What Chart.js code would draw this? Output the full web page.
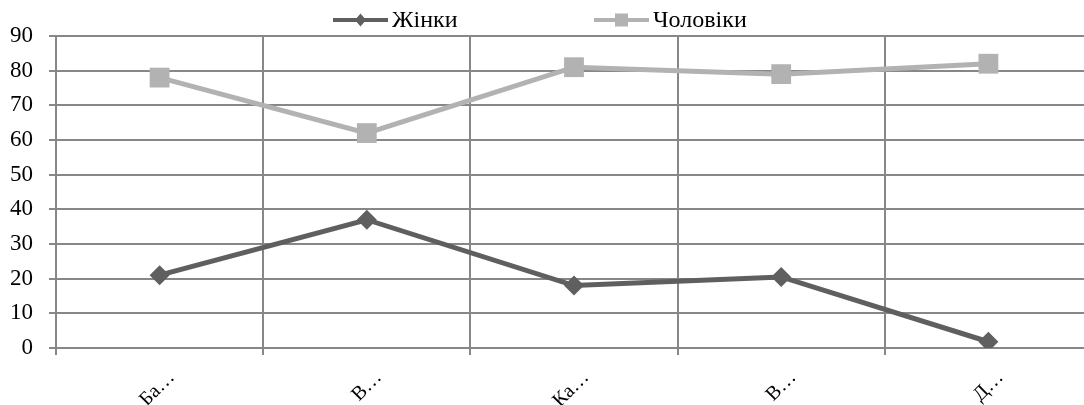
<!DOCTYPE html>
<html>
<head>
<meta charset="utf-8">
<script src="https://cdn.jsdelivr.net/npm/chart.js@4/dist/chart.umd.min.js"></script>
<style>
  html, body { margin: 0; padding: 0; background: #fff; overflow: hidden; }
  #wrap { width: 1084px; height: 405px; overflow: hidden; position: relative; }
  #box { width: 1106px; height: 405px; position: absolute; left: 0; top: 0; }
</style>
</head>
<body>
<div id="wrap"><div id="box"><canvas id="c"></canvas></div></div>
<script>
// Categories (shortened names) and the two series
const categories = ['Ба…', 'В…', 'Ка…', 'В…', 'Д…'];
const women = [21, 37, 18, 20.5, 1.8];
const men = [78, 62, 81, 79, 82];
const seriesNames = ['Жінки', 'Чоловіки'];
const yTicks = [0, 10, 20, 30, 40, 50, 60, 70, 80, 90];

const DARK = '#5f5f5f';
const LIGHT = '#b2b2b2';
const GRID = '#878787';
const FAMILY = '"Liberation Serif"';
const FONT = FAMILY + ', "Times New Roman", serif';

// Legend drawn as line + marker + label, spaced like a spreadsheet legend
const legendPlugin = {
  id: 'lineLegend',
  afterDraw(chart) {
    const ctx = chart.ctx;
    const items = [
      { x: 333, ds: chart.data.datasets[0] },
      { x: 594, ds: chart.data.datasets[1] }
    ];
    const cy = 20;
    ctx.save();
    items.forEach(it => {
      const color = it.ds.borderColor;
      ctx.strokeStyle = color;
      ctx.lineWidth = 4;
      ctx.beginPath();
      ctx.moveTo(it.x, cy);
      ctx.lineTo(it.x + 55, cy);
      ctx.stroke();
      ctx.fillStyle = color;
      const mx = it.x + 27.5;
      ctx.beginPath();
      if (it.ds.pointStyle === 'rectRot') {
        ctx.moveTo(mx, cy - 6.5);
        ctx.lineTo(mx + 5.5, cy);
        ctx.lineTo(mx, cy + 6.5);
        ctx.lineTo(mx - 5.5, cy);
        ctx.closePath();
      } else {
        ctx.rect(mx - 6.5, cy - 6.5, 13, 13);
      }
      ctx.fill();
      ctx.fillStyle = '#000';
      ctx.font = '24px ' + FONT;
      ctx.textBaseline = 'middle';
      ctx.textAlign = 'left';
      ctx.fillText(it.ds.label, it.x + 59, cy + 1);
    });
    ctx.restore();
  }
};

function draw() {
  new Chart(document.getElementById('c'), {
    type: 'line',
    data: {
      labels: categories,
      datasets: [
        {
          label: seriesNames[0],
          data: women,
          borderColor: DARK,
          backgroundColor: DARK,
          borderWidth: 5,
          pointStyle: 'rectRot',
          pointRadius: 10,
          pointBorderWidth: 0,
          pointBackgroundColor: DARK,
          tension: 0
        },
        {
          label: seriesNames[1],
          data: men,
          borderColor: LIGHT,
          backgroundColor: LIGHT,
          borderWidth: 5,
          pointStyle: 'rect',
          pointRadius: 14,
          pointBorderWidth: 0,
          pointBackgroundColor: LIGHT,
          tension: 0
        }
      ]
    },
    options: {
      responsive: true,
      maintainAspectRatio: false,
      animation: false,
      layout: { padding: { top: 36, right: 0, left: 0, bottom: 0 } },
      plugins: {
        legend: { display: false },
        tooltip: { enabled: false }
      },
      scales: {
        x: {
          offset: true,
          grid: {
            offset: true,
            color: GRID,
            lineWidth: 2,
            tickLength: 7,
            drawTicks: true
          },
          border: { color: GRID, width: 2 },
          ticks: {
            color: '#000',
            font: { family: FONT, size: 20 },
            maxRotation: 45,
            minRotation: 45,
            padding: 11,
            labelOffset: 12
          },
          afterFit(scale) { scale.height = 57; }
        },
        y: {
          min: 0,
          max: 90,
          afterBuildTicks(scale) { scale.ticks = yTicks.map(v => ({ value: v })); },
          grid: {
            color: GRID,
            lineWidth: 2,
            tickLength: 7
          },
          border: { color: GRID, width: 2 },
          ticks: {
            color: '#000',
            font: { family: FONT, size: 23 },
            padding: 16
          },
          afterFit(scale) { scale.width = 56; }
        }
      }
    },
    plugins: [legendPlugin]
  });
}

// make sure the serif face is ready before the canvas is painted
document.fonts.load('24px ' + FAMILY, 'Жінки Чоловіки 0123456789').then(draw, draw);
</script>
</body>
</html>
